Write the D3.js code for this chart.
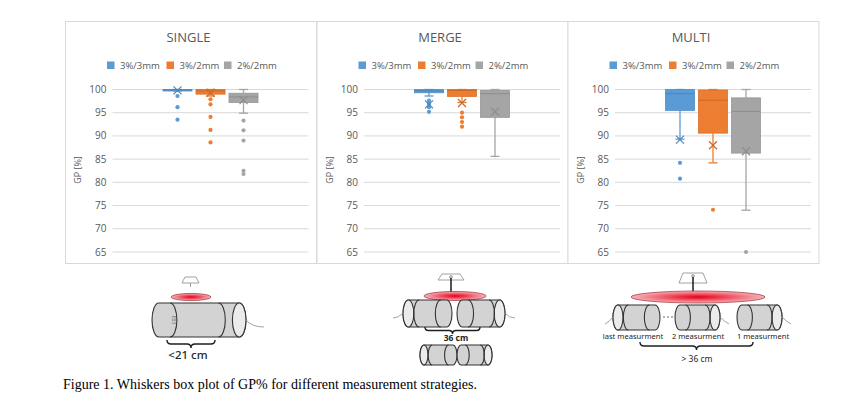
<!DOCTYPE html>
<html>
<head>
<meta charset="utf-8">
<script src="https://cdn.jsdelivr.net/npm/d3@7"></script>
<style>
body{margin:0;background:#fff;}
svg{display:block;}
</style>
</head>
<body>
<svg id="fig" width="851" height="402"></svg>
<script>
const panelNames = ['SINGLE','MERGE','MULTI']
const criteria = ['3%/3mm','3%/2mm','2%/2mm']
const yTicks = [65,70,75,80,85,90,95,100]

// [lower whisker, Q1, median, Q3, upper whisker] per criterion
const singleBoxes = [[99.7,99.7,99.9,100,100],[98.6,99.0,99.7,100,100],[94.9,97.2,98.4,99.2,100]]
const mergeBoxes  = [[98.6,99.3,99.7,100,100],[97.2,98.5,99.8,100,100],[85.6,94.0,99.1,99.8,100]]
const multiBoxes  = [[89.3,95.5,99.1,100,100],[84.2,90.6,97.7,99.9,100],[74.0,86.3,95.3,98.2,100]]

const singleMeans = [99.8,99.3,97.7]
const mergeMeans  = [96.8,97.1,95.2]
const multiMeans  = [89.2,88.0,86.7]

const singleOutliers = [[98.6,96.2,93.5],[97.9,96.8,94.1,91.3,88.6],[93.3,91.2,89.0,82.5,81.8]]
const mergeOutliers  = [[97.6,96.9,96.2,95.2],[95.0,94.0,93.0,92.0],[]]
const multiOutliers  = [[84.2,80.8],[74.1],[65.0]]

const colors = ['#5b9bd5','#ed7d31','#a5a5a5']
const textGrey = '#595959'
const chartFont = "'Open Sans', 'Noto Sans', sans-serif"

const panels = [
  {name: panelNames[0], boxes: singleBoxes, means: singleMeans, outliers: singleOutliers},
  {name: panelNames[1], boxes: mergeBoxes, means: mergeMeans, outliers: mergeOutliers},
  {name: panelNames[2], boxes: multiBoxes, means: multiMeans, outliers: multiOutliers}
]

const svg = d3.select('#fig')
svg.append('rect').attr('width',851).attr('height',402).attr('fill','#fff')

const panelX = [65, 316.5, 567.5]
const panelW = 251, panelTop = 21, panelH = 242
const plotLeft = 47.5, plotW = 196
const plotTop = 68.5, plotBottom = 231

const y = d3.scaleLinear().domain([65,100]).range([plotBottom, plotTop])
const x = d3.scaleBand().domain(criteria)
            .range([plotLeft + plotW/2 - 49.5, plotLeft + plotW/2 + 49.5])
            .paddingInner(0.12).paddingOuter(0.06)

let pg = svg.selectAll('g.panel')
            .data(panels)
            .enter()
            .append('g')
            .attr('class','panel')
            .attr('transform',(d,i) => `translate(${panelX[i]},${panelTop})`)

pg.append('rect')
  .attr('x',0.5).attr('y',0.5)
  .attr('width',panelW).attr('height',panelH)
  .attr('fill','#fff')
  .attr('stroke','#d9d9d9')

pg.append('text')
  .attr('x',panelW/2 - 2)
  .attr('y',21)
  .attr('fill',textGrey)
  .style('font-family',chartFont)
  .style('font-size','13px')
  .style('text-anchor','middle')
  .text(d => d.name)

// legend
const legendOffsets = [-81.5, -22, 35.5]
criteria.forEach((c,i) => {
  pg.append('rect')
    .attr('x',panelW/2 - 2 + legendOffsets[i])
    .attr('y',40.5)
    .attr('width',7.5).attr('height',7.5)
    .attr('fill',colors[i])
  pg.append('text')
    .attr('x',panelW/2 - 2 + legendOffsets[i] + 13)
    .attr('y',47.6)
    .attr('fill',textGrey)
    .style('font-family',chartFont)
    .style('font-size','9.5px')
    .text(c)
})

// grid + axis labels
pg.each(function(){
  const g = d3.select(this)
  g.selectAll('line.grid')
   .data(yTicks)
   .enter()
   .append('line')
   .attr('class','grid')
   .attr('x1',plotLeft).attr('x2',plotLeft + plotW)
   .attr('y1',d => y(d)).attr('y2',d => y(d))
   .attr('stroke','#d9d9d9')
  g.selectAll('text.tick')
   .data(yTicks)
   .enter()
   .append('text')
   .attr('class','tick')
   .attr('x',plotLeft - 6)
   .attr('y',d => y(d))
   .attr('dy','0.35em')
   .attr('fill',textGrey)
   .style('font-family',chartFont)
   .style('font-size','10px')
   .style('text-anchor','end')
   .text(d => d)
})

pg.append('text')
  .attr('transform',`translate(16,${149}) rotate(-90)`)
  .attr('fill',textGrey)
  .style('font-family',chartFont)
  .style('font-size','9px')
  .style('text-anchor','middle')
  .text('GP [%]')

// boxes
pg.each(function(p){
  const g = d3.select(this)
  const series = g.selectAll('g.series')
                  .data(criteria.map((c,i) => ({c, i, b: p.boxes[i], mean: p.means[i], out: p.outliers[i]})))
                  .enter()
                  .append('g')
                  .attr('class','series')

  const cx = d => x(d.c) + x.bandwidth()/2
  const dark = d => d3.color(colors[d.i]).darker(0.45).formatHex()

  // whiskers
  series.append('line')
    .attr('x1',cx).attr('x2',cx)
    .attr('y1',d => y(d.b[0])).attr('y2',d => y(d.b[1]))
    .attr('stroke',d => colors[d.i]).attr('stroke-width',1.3)
  series.append('line')
    .attr('x1',cx).attr('x2',cx)
    .attr('y1',d => y(d.b[3])).attr('y2',d => y(d.b[4]))
    .attr('stroke',d => colors[d.i]).attr('stroke-width',1.3)
  series.append('line')
    .attr('x1',d => cx(d) - 4.5).attr('x2',d => cx(d) + 4.5)
    .attr('y1',d => y(d.b[0])).attr('y2',d => y(d.b[0]))
    .attr('stroke',d => colors[d.i]).attr('stroke-width',1.3)
  series.append('line')
    .attr('x1',d => cx(d) - 4.5).attr('x2',d => cx(d) + 4.5)
    .attr('y1',d => y(d.b[4])).attr('y2',d => y(d.b[4]))
    .attr('stroke',d => colors[d.i]).attr('stroke-width',1.3)

  series.append('rect')
    .attr('x',d => x(d.c))
    .attr('width',x.bandwidth())
    .attr('y',d => y(d.b[3]))
    .attr('height',d => Math.max(1.5, y(d.b[1]) - y(d.b[3])))
    .attr('fill',d => colors[d.i])
    .attr('stroke',d => d3.color(colors[d.i]).darker(0.25).formatHex())
    .attr('stroke-width',0.8)

  series.append('line')
    .attr('x1',d => x(d.c)).attr('x2',d => x(d.c) + x.bandwidth())
    .attr('y1',d => y(d.b[2])).attr('y2',d => y(d.b[2]))
    .attr('stroke',dark).attr('stroke-width',1)

  // outliers
  series.each(function(d){
    d3.select(this).selectAll('circle')
      .data(d.out)
      .enter()
      .append('circle')
      .attr('cx',cx(d))
      .attr('cy',v => y(v))
      .attr('r',2.1)
      .attr('fill',colors[d.i])
  })

  // mean marker
  series.append('path')
    .attr('d',d => {
      const mx = cx(d), my = y(d.mean), s = 4
      return `M${mx-s},${my-s}L${mx+s},${my+s}M${mx-s},${my+s}L${mx+s},${my-s}`
    })
    .attr('stroke',dark)
    .attr('stroke-width',1.2)
    .attr('fill','none')
})

// ---------- drawings under the charts ----------
const art = svg.append('g')

const defs = svg.append('defs')
const grad = defs.append('radialGradient').attr('id','hot')
grad.append('stop').attr('offset','0%').attr('stop-color','#e3001b')
grad.append('stop').attr('offset','30%').attr('stop-color','#ec3446')
grad.append('stop').attr('offset','100%').attr('stop-color','#f6b3bb')

function field(cx, cy, rx, ry){
  art.append('ellipse')
    .attr('cx',cx).attr('cy',cy).attr('rx',rx).attr('ry',ry)
    .attr('fill','url(#hot)')
    .attr('stroke','#9b2b33').attr('stroke-width',0.7)
}

function head(cx, top, hTop, hBot, h, stemTo){
  art.append('path')
    .attr('d',`M${cx-hTop},${top}L${cx+hTop},${top}L${cx+hBot},${top+h}L${cx-hBot},${top+h}Z`)
    .attr('fill','#fff').attr('stroke','#8a8a8a').attr('stroke-width',0.8)
  if (stemTo) {
    art.append('circle').attr('cx',cx).attr('cy',top+3).attr('r',1.3).attr('fill','none').attr('stroke','#444').attr('stroke-width',0.6)
    art.append('line')
      .attr('x1',cx).attr('x2',cx).attr('y1',top+4).attr('y2',stemTo)
      .attr('stroke','#1a1a1a').attr('stroke-width',1.5)
  } else {
    art.append('line')
      .attr('x1',cx).attr('x2',cx).attr('y1',top+h).attr('y2',top+h+4)
      .attr('stroke','#8a8a8a').attr('stroke-width',0.8)
  }
}

function cylinder(x0, x1, yc, h, capLeft){
  const rx = h*0.2, ry = h/2, w = x1 - x0
  const g = art.append('g').attr('stroke','#333').attr('stroke-width',1.1)
  g.append('path')
    .attr('d',`M${x0+rx},${yc-ry}L${x1-rx},${yc-ry}A${rx},${ry} 0 0 1 ${x1-rx},${yc+ry}L${x0+rx},${yc+ry}A${rx},${ry} 0 0 1 ${x0+rx},${yc-ry}Z`)
    .attr('fill','#d3d3d3')
  const capX = capLeft ? x0 + rx : x1 - rx
  g.append('ellipse')
    .attr('cx',capX).attr('cy',yc).attr('rx',rx).attr('ry',ry)
    .attr('fill','#ebebeb')
  const rings = capLeft ? [x0 + rx + w*0.22, x1 - rx - w*0.12] : [x0 + rx + w*0.12, x1 - rx - w*0.22]
  rings.forEach(r => {
    g.append('path')
      .attr('d',`M${r},${yc-ry}A${rx},${ry} 0 0 ${capLeft ? 0 : 1} ${r},${yc+ry}`)
      .attr('fill','none')
  })
}

function cable(d){
  art.append('path').attr('d',d).attr('fill','none').attr('stroke','#8c8c8c').attr('stroke-width',0.8)
}

function brace(x0, x1, yb, h){
  const xm = (x0 + x1)/2, r = h/2
  art.append('path')
    .attr('d',`M${x0},${yb}Q${x0},${yb+r} ${x0+r},${yb+r}L${xm-r},${yb+r}Q${xm},${yb+r} ${xm},${yb+h}Q${xm},${yb+r} ${xm+r},${yb+r}L${x1-r},${yb+r}Q${x1},${yb+r} ${x1},${yb}`)
    .attr('fill','none').attr('stroke','#1f1f1f').attr('stroke-width',1.4)
}

function label(xp, yp, txt, size, weight){
  art.append('text')
    .attr('x',xp).attr('y',yp)
    .attr('fill','#262626')
    .style('font-family',"'Noto Sans', 'Open Sans', sans-serif")
    .style('font-size',size + 'px')
    .style('font-weight',weight || 'normal')
    .style('text-anchor','middle')
    .text(txt)
}

// SINGLE
head(190.5, 277, 5.5, 8.5, 6, null)
field(191, 297, 20, 3.6)
cylinder(152, 246, 320, 34, false)
cable('M246,320 Q252,327 264,327')
art.append('text')
  .attr('transform','translate(172,320) rotate(90)')
  .attr('fill','#777')
  .style('font-family',"'Noto Sans', sans-serif")
  .style('font-size','5px')
  .style('text-anchor','middle')
  .text('EB3')
brace(167, 215, 340, 8)
label(188, 359, '<21 cm', 11.5, 500)

// MERGE
head(451, 274, 9, 13, 6, 296)
field(455, 296, 31, 4.5)
cylinder(403, 452, 313.5, 27, true)
cylinder(457, 505, 313.5, 27, false)
cable('M403,313 Q399,318 393,318')
cable('M505,313 Q509,318 515,318')
brace(425, 480, 327, 7)
label(456, 341, '36 cm', 8.5, 700)
cylinder(420, 457, 355, 20, true)
cylinder(457, 492, 355, 20, false)

// MULTI
head(693, 273, 10, 14, 10, 296)
field(698, 297, 67, 6)
cylinder(613, 660, 317.5, 25, true)
cylinder(675, 720, 317.5, 25, false)
cylinder(737, 782, 317.5, 25, false)
cable('M613,317 Q609,322 605,324')
cable('M720,317 Q725,322 729,324')
cable('M782,317 Q787,322 791,324')
art.selectAll('circle.dots')
  .data([664, 668, 672])
  .enter()
  .append('circle')
  .attr('class','dots')
  .attr('cx',d => d).attr('cy',317).attr('r',0.7).attr('fill','#333')
label(633, 339, 'last measurment', 7.6)
label(698, 339, '2 measurment', 7.6)
label(763, 339, '1 measurment', 7.6)
brace(640, 753, 342, 8)
label(697, 362, '> 36 cm', 8.5)

// caption
svg.append('text')
  .attr('x',63)
  .attr('y',389)
  .attr('fill','#000')
  .style('font-family',"'Liberation Serif', 'Times New Roman', serif")
  .style('font-size','14px')
  .text('Figure 1. Whiskers box plot of GP% for different measurement strategies.')
</script>
</body>
</html>
